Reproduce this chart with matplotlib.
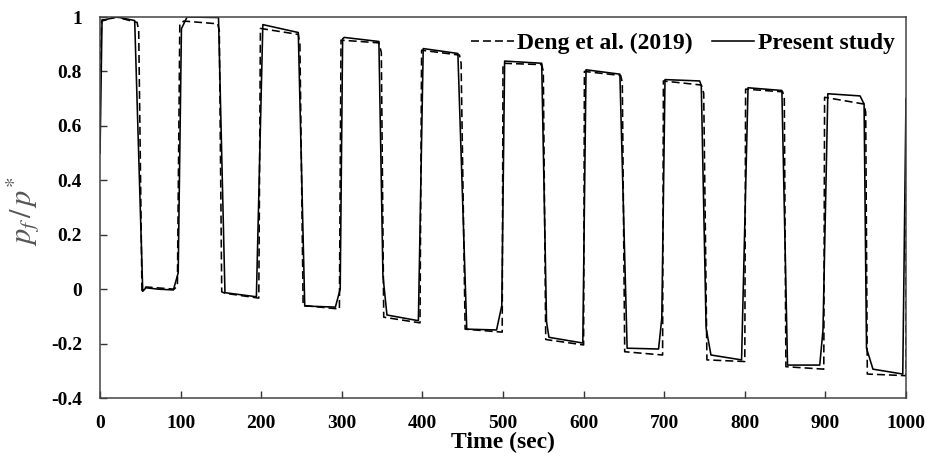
import matplotlib
matplotlib.use("Agg")
import matplotlib.pyplot as plt

plt.rcParams['font.family'] = ['Liberation Serif', 'DejaVu Serif']
plt.rcParams['mathtext.fontset'] = 'stix'
plt.rcParams['axes.unicode_minus'] = False

# Deng et al. (2019) reference curve
deng_t = [0, 2, 20, 46, 48, 52, 57, 92, 96, 99, 104, 146, 148, 151, 155, 197,
          199, 246, 248, 252, 297, 299, 346, 349, 352, 397, 399, 446, 448, 453,
          499, 500, 548, 550, 553, 600, 601, 646, 648, 651, 698, 699, 746, 749,
          753, 800, 801, 847, 849, 851, 898, 899, 948, 950, 952, 1000, 1000]
deng_p = [0.80, 0.985, 1.0, 0.98, 0.95, -0.005, 0.008, 0.0, 0.012, 0.975,
          0.985, 0.975, 0.95, -0.01, -0.015, -0.033, 0.958, 0.936, 0.9, -0.06,
          -0.073, 0.915, 0.905, 0.87, -0.103, -0.124, 0.878, 0.86, 0.83,
          -0.147, -0.158, 0.83, 0.825, 0.8, -0.185, -0.205, 0.8, 0.785, 0.76,
          -0.23, -0.242, 0.765, 0.75, 0.72, -0.26, -0.266, 0.735, 0.725, 0.7,
          -0.285, -0.294, 0.705, 0.68, 0.65, -0.312, -0.318, 0.70]

# present simulation
study_t = [0, 2.5, 6, 21, 43, 53, 57, 72, 91, 97, 101, 108, 147, 155, 194, 202,
           246, 254, 292, 298, 301, 303, 346, 351, 356, 395, 401, 444, 455, 492,
           498.5, 502, 548, 554, 557, 599, 603, 645, 654, 693, 697, 701, 744,
           746, 752, 758, 796, 804, 846, 853, 893, 897, 903, 943, 948, 951, 959,
           996, 1000]
study_p = [0.50, 0.99, 0.99, 1.0, 0.987, -0.008, 0.005, 0.0, -0.003, 0.06,
           0.957, 1.0, 0.998, -0.013, -0.028, 0.972, 0.943, -0.062, -0.066, 0.0,
           0.92, 0.925, 0.91, 0.05, -0.095, -0.116, 0.884, 0.866, -0.147, -0.15,
           -0.06, 0.838, 0.83, -0.12, -0.177, -0.198, 0.806, 0.79, -0.217, -0.22,
           -0.107, 0.77, 0.765, 0.748, -0.143, -0.242, -0.26, 0.74, 0.73, -0.279,
           -0.279, -0.15, 0.718, 0.71, 0.68, -0.217, -0.294, -0.312, 0.70]

x_ticks = [0, 100, 200, 300, 400, 500, 600, 700, 800, 900, 1000]
y_ticks = [-0.4, -0.2, 0, 0.2, 0.4, 0.6, 0.8, 1]
y_labels = ['-0.4', '-0.2', '0', '0.2', '0.4', '0.6', '0.8', '1']

fig = plt.figure(figsize=(9.41, 4.57), dpi=100)
ax = fig.add_axes([0.1063, 0.1291, 0.8565, 0.8337])

ax.plot(deng_t, deng_p, color='black', lw=1.15, dashes=(5, 2.5),
        label='Deng et al. (2019)')
ax.plot(study_t, study_p, color='black', lw=1.15, label='Present study')

ax.set_xlim(0, 1000)
ax.set_ylim(-0.4, 1)
ax.set_xticks(x_ticks)
ax.set_xticklabels([str(v) for v in x_ticks])
ax.set_yticks(y_ticks)
ax.set_yticklabels(y_labels)
ax.tick_params(direction='in', length=5, width=1, colors='#333333',
               labelcolor='black', labelsize=14)
ax.tick_params(axis='x', pad=12)
ax.tick_params(axis='y', pad=13)
for lab in ax.get_xticklabels() + ax.get_yticklabels():
    lab.set_fontweight('bold')
for sp in ax.spines.values():
    sp.set_color('#444444')
    sp.set_linewidth(1.1)

ax.set_xlabel('Time (sec)', fontsize=17, fontweight='bold', labelpad=0)
ax.set_ylabel(r'$p_f\,/\,p^{*}$', fontsize=22, color='#555555')
ax.yaxis.set_label_coords(-0.072, 0.49)

leg = ax.legend(loc='upper right', ncol=2, frameon=False,
                bbox_to_anchor=(0.9864, 0.96), borderaxespad=0, borderpad=0,
                handlelength=1.8, handletextpad=0.15, columnspacing=0.8,
                prop={'family': 'Liberation Serif', 'weight': 'bold', 'size': 17})

fig.savefig('out.png', dpi=100)
